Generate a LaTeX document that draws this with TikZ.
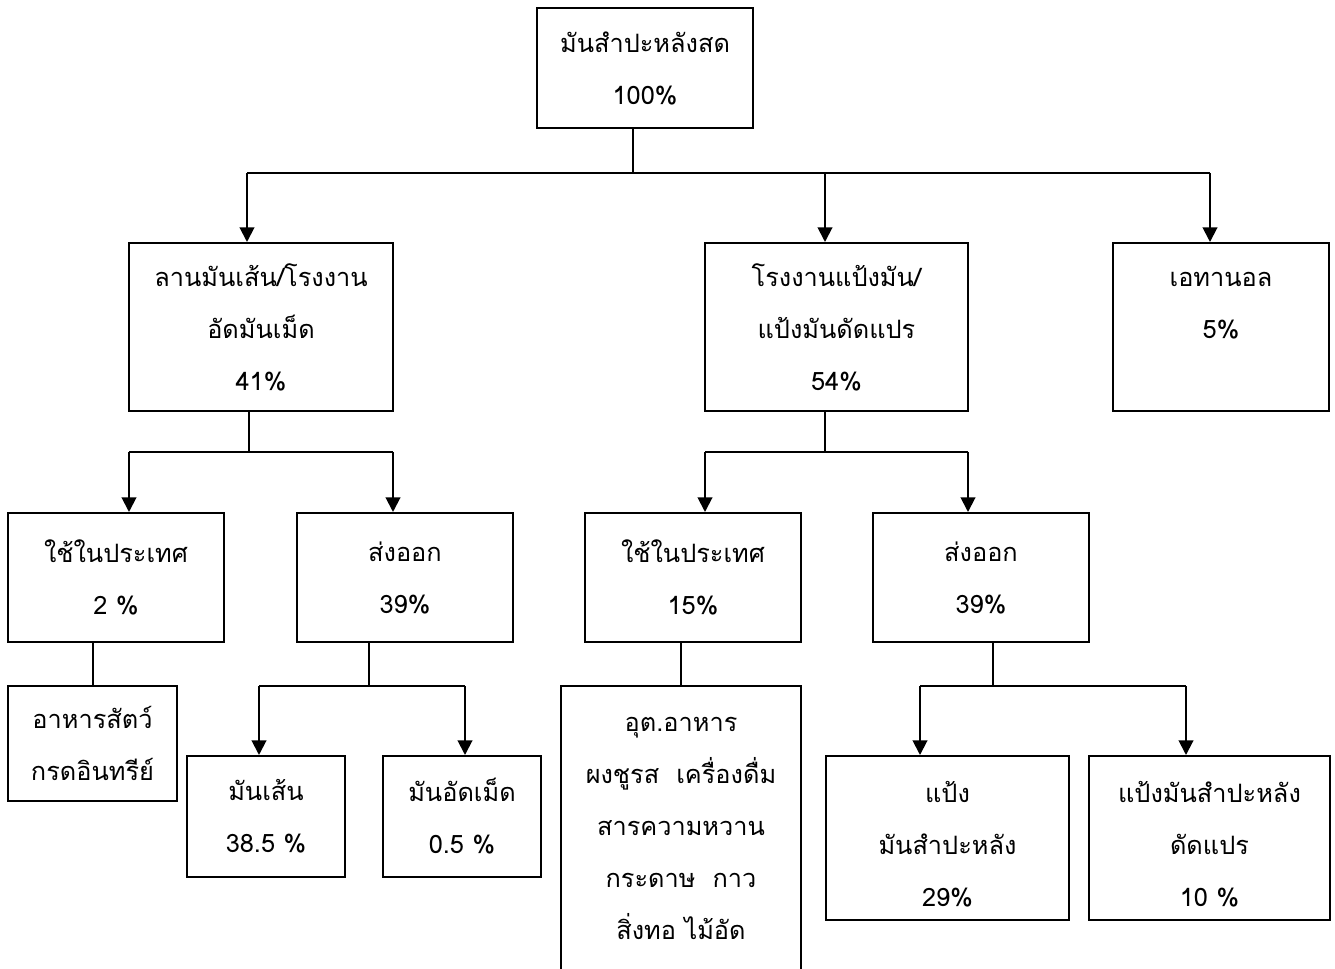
\documentclass[tikz,border=0pt]{standalone}
\usepackage{fontspec}
\setmainfont[Script=Thai]{Loma}
\usetikzlibrary{arrows.meta}
\begin{document}
\begin{tikzpicture}[x=0.75pt,y=-0.75pt,
  box/.style={draw,line width=1.5pt,align=center,inner sep=0pt,font=\fontsize{19}{39}\selectfont},
  txt/.style={align=center,inner sep=0pt,font=\fontsize{19}{39}\selectfont},
  conn/.style={line width=1.5pt},
  arr/.style={conn,-{Triangle[width=11pt,length=11pt]}}]
\useasboundingbox (0,0) rectangle (1335,969);
\clip (0,0) rectangle (1335,969);
% boxes
\node[box,minimum width=162pt,minimum height=90pt] (top) at (645,68) {มันสำปะหลังสด\\100\%};
\node[box,minimum width=198pt,minimum height=126pt] (A) at (261,327) {ลานมันเส้น/โรงงาน\\อัดมันเม็ด\\41\%};
\node[box,minimum width=197.25pt,minimum height=126pt] (B) at (836.5,327) {โรงงานแป้งมัน/\\แป้งมันดัดแปร\\54\%};
\node[box,minimum width=162pt,minimum height=126pt] (C) at (1221,327) {};
\node[txt] (Ct) at ([yshift=15.75pt]C.center) {เอทานอล\\5\%};
\node[box,minimum width=162pt,minimum height=96.75pt] (A1) at (116,577.5) {ใช้ในประเทศ\\2 \%};
\node[box,minimum width=162pt,minimum height=96.75pt] (A2) at (405,577.5) {ส่งออก\\39\%};
\node[box,minimum width=162pt,minimum height=96.75pt] (B1) at (693,577.5) {ใช้ในประเทศ\\15\%};
\node[box,minimum width=162pt,minimum height=96.75pt] (B2) at (981,577.5) {ส่งออก\\39\%};
\node[box,minimum width=126.75pt,minimum height=86.25pt] (A1a) at (92.5,743.5) {อาหารสัตว์\\กรดอินทรีย์};
\node[box,minimum width=118.5pt,minimum height=90.75pt] (A2a) at (266,816.5) {มันเส้น\\38.5 \%};
\node[box,minimum width=118.5pt,minimum height=90.75pt] (A2b) at (462,816.5) {มันอัดเม็ด\\0.5 \%};
\node[box,minimum width=180pt,minimum height=216.75pt] (B1a) at (681,830.5) {};
\node[txt] (B1at) at ([yshift=1.5pt]B1a.center) {อุต.อาหาร\\ผงชูรส\ \ เครื่องดื่ม\\สารความหวาน\\กระดาษ\ \ กาว\\สิ่งทอ ไม้อัด};
\node[box,minimum width=182.25pt,minimum height=123pt] (B2a) at (947.5,838) {};
\node[txt] (B2at) at ([yshift=-4.5pt]B2a.center) {แป้ง\\มันสำปะหลัง\\29\%};
\node[box,minimum width=180.75pt,minimum height=123pt] (B2b) at (1209.5,838) {};
\node[txt] (B2bt) at ([yshift=-4.5pt]B2b.center) {แป้งมันสำปะหลัง\\ดัดแปร\\10 \%};
% junction points
\coordinate (b0) at (633,173);
\coordinate (bL) at (247,173);
\coordinate (bM) at (825,173);
\coordinate (bR) at (1210,173);
\coordinate (aj) at (249,452);
\coordinate (aL) at (129,452);
\coordinate (aR) at (393,452);
\coordinate (bj) at (825,452);
\coordinate (bL2) at (705,452);
\coordinate (bR2) at (968,452);
\coordinate (c1) at (93,686);
\coordinate (c2) at (369,686);
\coordinate (c2L) at (259,686);
\coordinate (c2R) at (465,686);
\coordinate (c3) at (681,686);
\coordinate (c4) at (993,686);
\coordinate (c4L) at (920,686);
\coordinate (c4R) at (1186,686);
% connectors level 1
\draw[conn] (top.south -| b0) -- (b0);
\draw[conn] (bL) -- (bR);
\draw[arr] (bL) -- (A.north -| bL);
\draw[arr] (bM) -- (B.north -| bM);
\draw[arr] (bR) -- (C.north -| bR);
% level 2
\draw[conn] (A.south -| aj) -- (aj);
\draw[conn] (aL) -- (aR);
\draw[arr] (aL) -- (A1.north -| aL);
\draw[arr] (aR) -- (A2.north -| aR);
\draw[conn] (B.south -| bj) -- (bj);
\draw[conn] (bL2) -- (bR2);
\draw[arr] (bL2) -- (B1.north -| bL2);
\draw[arr] (bR2) -- (B2.north -| bR2);
% level 3
\draw[conn] (A1.south -| c1) -- (A1a.north -| c1);
\draw[conn] (A2.south -| c2) -- (c2);
\draw[conn] (c2L) -- (c2R);
\draw[arr] (c2L) -- (A2a.north -| c2L);
\draw[arr] (c2R) -- (A2b.north -| c2R);
\draw[conn] (B1.south -| c3) -- (B1a.north -| c3);
\draw[conn] (B2.south -| c4) -- (c4);
\draw[conn] (c4L) -- (c4R);
\draw[arr] (c4L) -- (B2a.north -| c4L);
\draw[arr] (c4R) -- (B2b.north -| c4R);
\end{tikzpicture}
\end{document}
